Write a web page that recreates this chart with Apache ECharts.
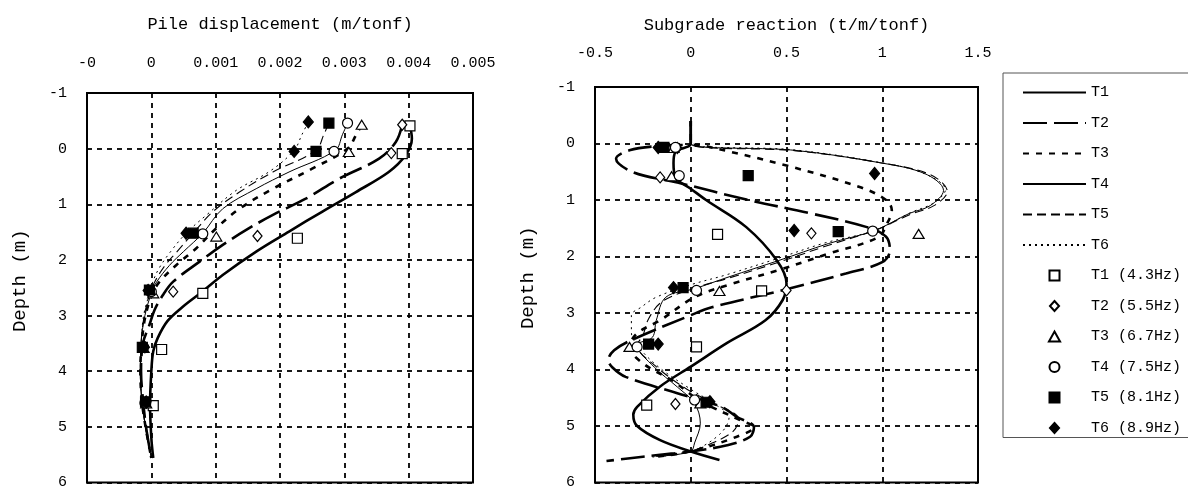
<!DOCTYPE html>
<html>
<head>
<meta charset="UTF-8"/>
<title>Pile displacement / Subgrade reaction</title>
<script src="https://cdn.jsdelivr.net/npm/echarts@6/dist/echarts.min.js"></script>
<style>
  html, body { margin: 0; padding: 0; background: #fff; }
  #chart { width: 1188px; height: 490px; }
</style>
</head>
<body>
<div id="chart"></div>
<script>
// tick labels
const dispLabels = ['-0', '0', '0.001', '0.002', '0.003', '0.004', '0.005'];
const reactLabels = ['-0.5', '0', '0.5', '1', '1.5'];
const depthLabels = ['-1', '0', '1', '2', '3', '4', '5', '6'];

const lineNames = ['T1', 'T2', 'T3', 'T4', 'T5', 'T6'];
const markNames = ['T1 (4.3Hz)', 'T2 (5.5Hz)', 'T3 (6.7Hz)', 'T4 (7.5Hz)', 'T5 (8.1Hz)', 'T6 (8.9Hz)'];

// pile displacement curves [m/tonf, depth m]
const dispT1 = [[0.00402,-0.41],[0.00405,-0.18],[0.00395,0.12],[0.00369,0.42],[0.00318,0.78],[0.00266,1.13],[0.00214,1.49],[0.00163,1.85],[0.00111,2.27],[0.00078,2.58],[0.00048,2.85],[0.00025,3.1],[0.0001,3.4],[0.00003,3.64],[0,4.0],[-0.00002,4.6],[0,5.2],[0.00003,5.56]];
const dispT2 = [[0.0039,-0.43],[0.0038,-0.12],[0.00354,0.18],[0.00292,0.54],[0.0024,0.9],[0.00189,1.19],[0.00152,1.43],[0.00111,1.73],[0.00075,2.03],[0.00034,2.39],[0.00018,2.63],[0.00005,2.9],[-0.00003,3.17],[-0.00013,3.5],[-0.00016,4.0],[-0.00013,4.51],[-0.00008,5.02],[0,5.56]];
const dispT3 = [[0.00327,-0.43],[0.00318,-0.24],[0.00305,0],[0.0025,0.36],[0.00189,0.72],[0.00137,1.08],[0.00101,1.43],[0.0007,1.79],[0.00039,2.09],[0.00013,2.39],[0.00002,2.6],[-0.00009,3.0],[-0.00015,3.5],[-0.00017,4.0],[-0.00015,4.5],[-0.00009,5.0],[0,5.56]];
const dispT4 = [[0.00305,-0.46],[0.00297,-0.25],[0.00286,0.03],[0.00214,0.42],[0.00163,0.72],[0.00111,1.08],[0.0008,1.52],[0.0005,1.85],[0.00028,2.1],[0.00008,2.4],[0,2.6],[-0.0001,3.0],[-0.00016,3.5],[-0.00017,4.0],[-0.00015,4.5],[-0.00009,5.0],[0,5.56]];
const dispT5 = [[0.00276,-0.46],[0.00268,-0.25],[0.00256,0.03],[0.00189,0.42],[0.00137,0.78],[0.00096,1.13],[0.00065,1.52],[0.0004,1.85],[0.0002,2.12],[0.00005,2.4],[-0.00002,2.6],[-0.00011,3.0],[-0.00016,3.5],[-0.00017,4.0],[-0.00015,4.5],[-0.00009,5.0],[0,5.56]];
const dispT6 = [[0.00244,-0.48],[0.00234,-0.25],[0.00222,0.03],[0.00185,0.4],[0.00132,0.75],[0.00085,1.2],[0.00054,1.52],[0.0003,1.85],[0.00012,2.15],[0.00002,2.4],[-0.00003,2.6],[-0.00012,3.0],[-0.00016,3.5],[-0.00017,4.0],[-0.00015,4.5],[-0.00009,5.0],[0,5.56]];

// pile displacement measured points
const dispM1 = [[0.00402,-0.41],[0.0039,0.09],[0.00227,1.61],[0.0008,2.6],[0.00016,3.61],[0.00003,4.62]];
const dispM2 = [[0.0039,-0.43],[0.00373,0.08],[0.00165,1.57],[0.00034,2.57],[-0.0001,3.57],[-0.00008,4.57]];
const dispM3 = [[0.00327,-0.43],[0.00307,0.06],[0.00101,1.58],[0.00003,2.6],[-0.00012,3.58],[-0.00008,4.58]];
const dispM4 = [[0.00305,-0.46],[0.00284,0.05],[0.0008,1.53],[0,2.57],[-0.00012,3.57],[-0.0001,4.57]];
const dispM5 = [[0.00276,-0.46],[0.00256,0.05],[0.00065,1.52],[-0.00003,2.54],[-0.00014,3.57],[-0.00009,4.55]];
const dispM6 = [[0.00244,-0.48],[0.00222,0.05],[0.00054,1.52],[-0.00005,2.55],[-0.00012,3.55],[-0.00008,4.55]];

// subgrade reaction curves [t/m/tonf, depth m]
const reactT1 = [[0,-0.4],[0,0],[-0.08,0.15],[-0.09,0.35],[-0.08,0.6],[0,0.8],[0.08,1.0],[0.29,1.48],[0.45,2.07],[0.5,2.48],[0.48,2.77],[0.39,3.13],[0.19,3.53],[0,3.95],[-0.16,4.3],[-0.28,4.66],[-0.3,4.8],[-0.28,5.0],[-0.16,5.25],[0,5.45],[0.15,5.6]];
const reactT2 = [[0,-0.4],[0,0],[-0.16,0.04],[-0.32,0.12],[-0.39,0.27],[-0.3,0.51],[-0.07,0.69],[0.3,1.0],[0.63,1.24],[0.92,1.48],[1.02,1.65],[1.04,1.89],[1.0,2.1],[0.81,2.3],[0.5,2.58],[0.11,2.9],[0,3.04],[-0.31,3.48],[-0.4,3.66],[-0.43,3.83],[-0.41,3.96],[-0.34,4.13],[-0.07,4.42],[0.16,4.66],[0.24,4.84],[0.33,5.02],[0.31,5.19],[0.19,5.34],[0,5.45],[-0.16,5.51],[-0.34,5.58],[-0.44,5.62]];
const reactT3 = [[0,-0.4],[0,0],[0.07,0.04],[0.5,0.39],[0.89,0.78],[1.02,1.0],[1.05,1.18],[1.02,1.45],[0.98,1.66],[0.72,1.95],[0.46,2.24],[0.2,2.5],[0.02,2.72],[-0.16,3.13],[-0.28,3.36],[-0.32,3.6],[-0.25,3.89],[-0.1,4.19],[0.02,4.49],[0.07,4.6],[0.26,4.9],[0.33,5.02],[0.24,5.19],[0,5.45],[-0.2,5.55]];
const reactT4 = [[0,-0.4],[0,0],[0.54,0.12],[0.97,0.33],[1.22,0.53],[1.32,0.83],[1.25,1.1],[1.14,1.24],[0.96,1.54],[0.72,1.77],[0.46,2.07],[0.2,2.36],[0.02,2.57],[-0.13,2.72],[-0.18,3.13],[-0.2,3.43],[-0.28,3.57],[-0.19,3.96],[-0.07,4.31],[0.02,4.6],[0.05,4.95],[0.02,5.3],[0,5.45],[-0.15,5.53]];
const reactT5 = [[0,-0.4],[0,0],[0.55,0.13],[0.99,0.34],[1.25,0.55],[1.34,0.85],[1.27,1.1],[1.15,1.25],[0.96,1.54],[0.72,1.8],[0.46,2.1],[0.2,2.38],[0,2.58],[-0.15,2.8],[-0.22,3.1],[-0.25,3.4],[-0.28,3.57],[-0.18,3.95],[-0.02,4.35],[0.12,4.6],[0.25,4.88],[0.22,5.1],[0.08,5.35],[0,5.45],[-0.18,5.54]];
const reactT6 = [[0,-0.4],[0,0],[0.53,0.11],[0.96,0.32],[1.21,0.52],[1.33,0.82],[1.27,1.05],[1.15,1.22],[0.96,1.54],[0.7,1.76],[0.44,2.05],[0.18,2.33],[0,2.5],[-0.18,2.72],[-0.26,2.9],[-0.31,3.04],[-0.31,3.34],[-0.28,3.57],[-0.17,3.95],[0,4.35],[0.12,4.6],[0.2,4.85],[0.15,5.15],[0,5.45],[-0.2,5.55]];

// subgrade reaction measured points
const reactM1 = [[0.14,1.61],[0.37,2.61],[0.03,3.6],[-0.23,4.63]];
const reactM2 = [[-0.07,0.08],[-0.16,0.6],[0.63,1.59],[0.5,2.6],[-0.08,4.61]];
const reactM3 = [[-0.09,0.08],[-0.1,0.58],[1.19,1.6],[0.15,2.61],[-0.32,3.6],[0.05,4.6]];
const reactM4 = [[-0.08,0.07],[-0.06,0.57],[0.95,1.55],[0.03,2.6],[-0.28,3.6],[0.02,4.54]];
const reactM5 = [[-0.14,0.07],[0.3,0.57],[0.77,1.56],[-0.04,2.55],[-0.22,3.55],[0.08,4.58]];
const reactM6 = [[-0.17,0.07],[0.96,0.53],[0.54,1.54],[-0.09,2.55],[-0.17,3.55],[0.1,4.57]];

const FONT = "'Liberation Mono', 'DejaVu Sans Mono', monospace";

// line look for T1..T6
const lineLooks = [
  { width: 2.6, type: 'solid' },
  { width: 2.6, type: [24, 7] },
  { width: 2.6, type: [6, 7] },
  { width: 1, type: 'solid' },
  { width: 1.1, type: [9, 5] },
  { width: 1, type: [2, 4] }
];
// marker look for measured series (path shapes keep their aspect in the legend)
const SQUARE = 'path://M0,0H10V10H0Z';
const DIAMOND = 'path://M5,0L10,5.5L5,11L0,5.5Z';
const TRIANGLE = 'path://M5,0L10,9L0,9Z';
const markLooks = [
  { symbol: SQUARE, size: 10, fill: '#fff' },
  { symbol: DIAMOND, size: [10, 11], fill: '#fff' },
  { symbol: TRIANGLE, size: [11, 10], fill: '#fff' },
  { symbol: 'circle', size: 10, fill: '#fff' },
  { symbol: SQUARE, size: 10, fill: '#000' },
  { symbol: DIAMOND, size: [11, 12], fill: '#000' }
];

const dispCurves = [dispT1, dispT2, dispT3, dispT4, dispT5, dispT6];
const dispMarks = [dispM1, dispM2, dispM3, dispM4, dispM5, dispM6];
const reactCurves = [reactT1, reactT2, reactT3, reactT4, reactT5, reactT6];
const reactMarks = [reactM1, reactM2, reactM3, reactM4, reactM5, reactM6];

function lineSeries(data, i, g) {
  return {
    name: lineNames[i], type: 'line', xAxisIndex: g, yAxisIndex: g,
    data: data, symbol: 'none', smooth: 0.35, z: 2,
    itemStyle: { color: 'rgba(0,0,0,0)', borderWidth: 0, opacity: 0 },
    lineStyle: { color: '#000', width: lineLooks[i].width, type: lineLooks[i].type, opacity: 1 }
  };
}
function markSeries(data, i, g) {
  const m = markLooks[i];
  return {
    name: markNames[i], type: 'scatter', xAxisIndex: g, yAxisIndex: g,
    data: data, symbol: m.symbol, symbolSize: m.size, symbolKeepAspect: true, z: 4,
    itemStyle: { color: m.fill, borderColor: '#000', borderWidth: 1.2, opacity: 1 }
  };
}

const series = [];
dispCurves.forEach((d, i) => series.push(lineSeries(d, i, 0)));
reactCurves.forEach((d, i) => series.push(lineSeries(d, i, 1)));
dispMarks.forEach((d, i) => series.push(markSeries(d, i, 0)));
reactMarks.forEach((d, i) => series.push(markSeries(d, i, 1)));

const gridLine = { show: true, lineStyle: { color: '#000', width: 1.8, type: [5, 5] } };
const frame = { show: true, onZero: false, lineStyle: { color: '#000', width: 2 } };

const chart = echarts.init(document.getElementById('chart'));
chart.setOption({
  backgroundColor: '#fff',
  animation: false,
  textStyle: { fontFamily: FONT, color: '#000' },
  grid: [
    { left: 87, top: 93, width: 386, height: 392, show: true, borderColor: '#000', borderWidth: 2 },
    { left: 595, top: 87, width: 383, height: 396, show: true, borderColor: '#000', borderWidth: 2 }
  ],
  xAxis: [
    {
      gridIndex: 0, type: 'value', position: 'top', min: -0.001, max: 0.005, interval: 0.001,
      name: 'Pile displacement (m/tonf)', nameLocation: 'middle', nameGap: 60,
      nameTextStyle: { fontFamily: FONT, fontSize: 17, color: '#000' },
      axisLine: frame, axisTick: { show: false }, splitLine: gridLine,
      axisLabel: { margin: 22, fontSize: 15, color: '#000', fontFamily: FONT,
        formatter: v => dispLabels[Math.round((v + 0.001) / 0.001)] }
    },
    {
      gridIndex: 1, type: 'value', position: 'top', min: -0.5, max: 1.5, interval: 0.5,
      name: 'Subgrade reaction (t/m/tonf)', nameLocation: 'middle', nameGap: 53,
      nameTextStyle: { fontFamily: FONT, fontSize: 17, color: '#000' },
      axisLine: frame, axisTick: { show: false }, splitLine: gridLine,
      axisLabel: { margin: 26, fontSize: 15, color: '#000', fontFamily: FONT,
        formatter: v => reactLabels[Math.round((v + 0.5) / 0.5)] }
    }
  ],
  yAxis: [0, 1].map(g => ({
    gridIndex: g, type: 'value', inverse: true, min: -1, max: 6, interval: 1,
    name: 'Depth (m)', nameLocation: 'middle', nameGap: 58, nameRotate: 90,
    nameTextStyle: { fontFamily: FONT, fontSize: 19, color: '#000', padding: [0, 0, 0, 14] },
    axisLine: frame, axisTick: { show: false }, splitLine: gridLine,
    axisLabel: { margin: 20, fontSize: 15, color: '#000', fontFamily: FONT,
      formatter: v => depthLabels[Math.round(v + 1)] }
  })),
  legend: {
    orient: 'vertical', left: 1003, top: 73,
    padding: [12, 12, 2, 19], itemGap: 15.5, itemWidth: 63, itemHeight: 10,
    borderColor: '#555', borderWidth: 1, backgroundColor: '#fff',
    textStyle: { fontFamily: FONT, fontSize: 15, color: '#000' },
    data: lineNames.concat(markNames)
  },
  series: series
});
</script>
</body>
</html>
